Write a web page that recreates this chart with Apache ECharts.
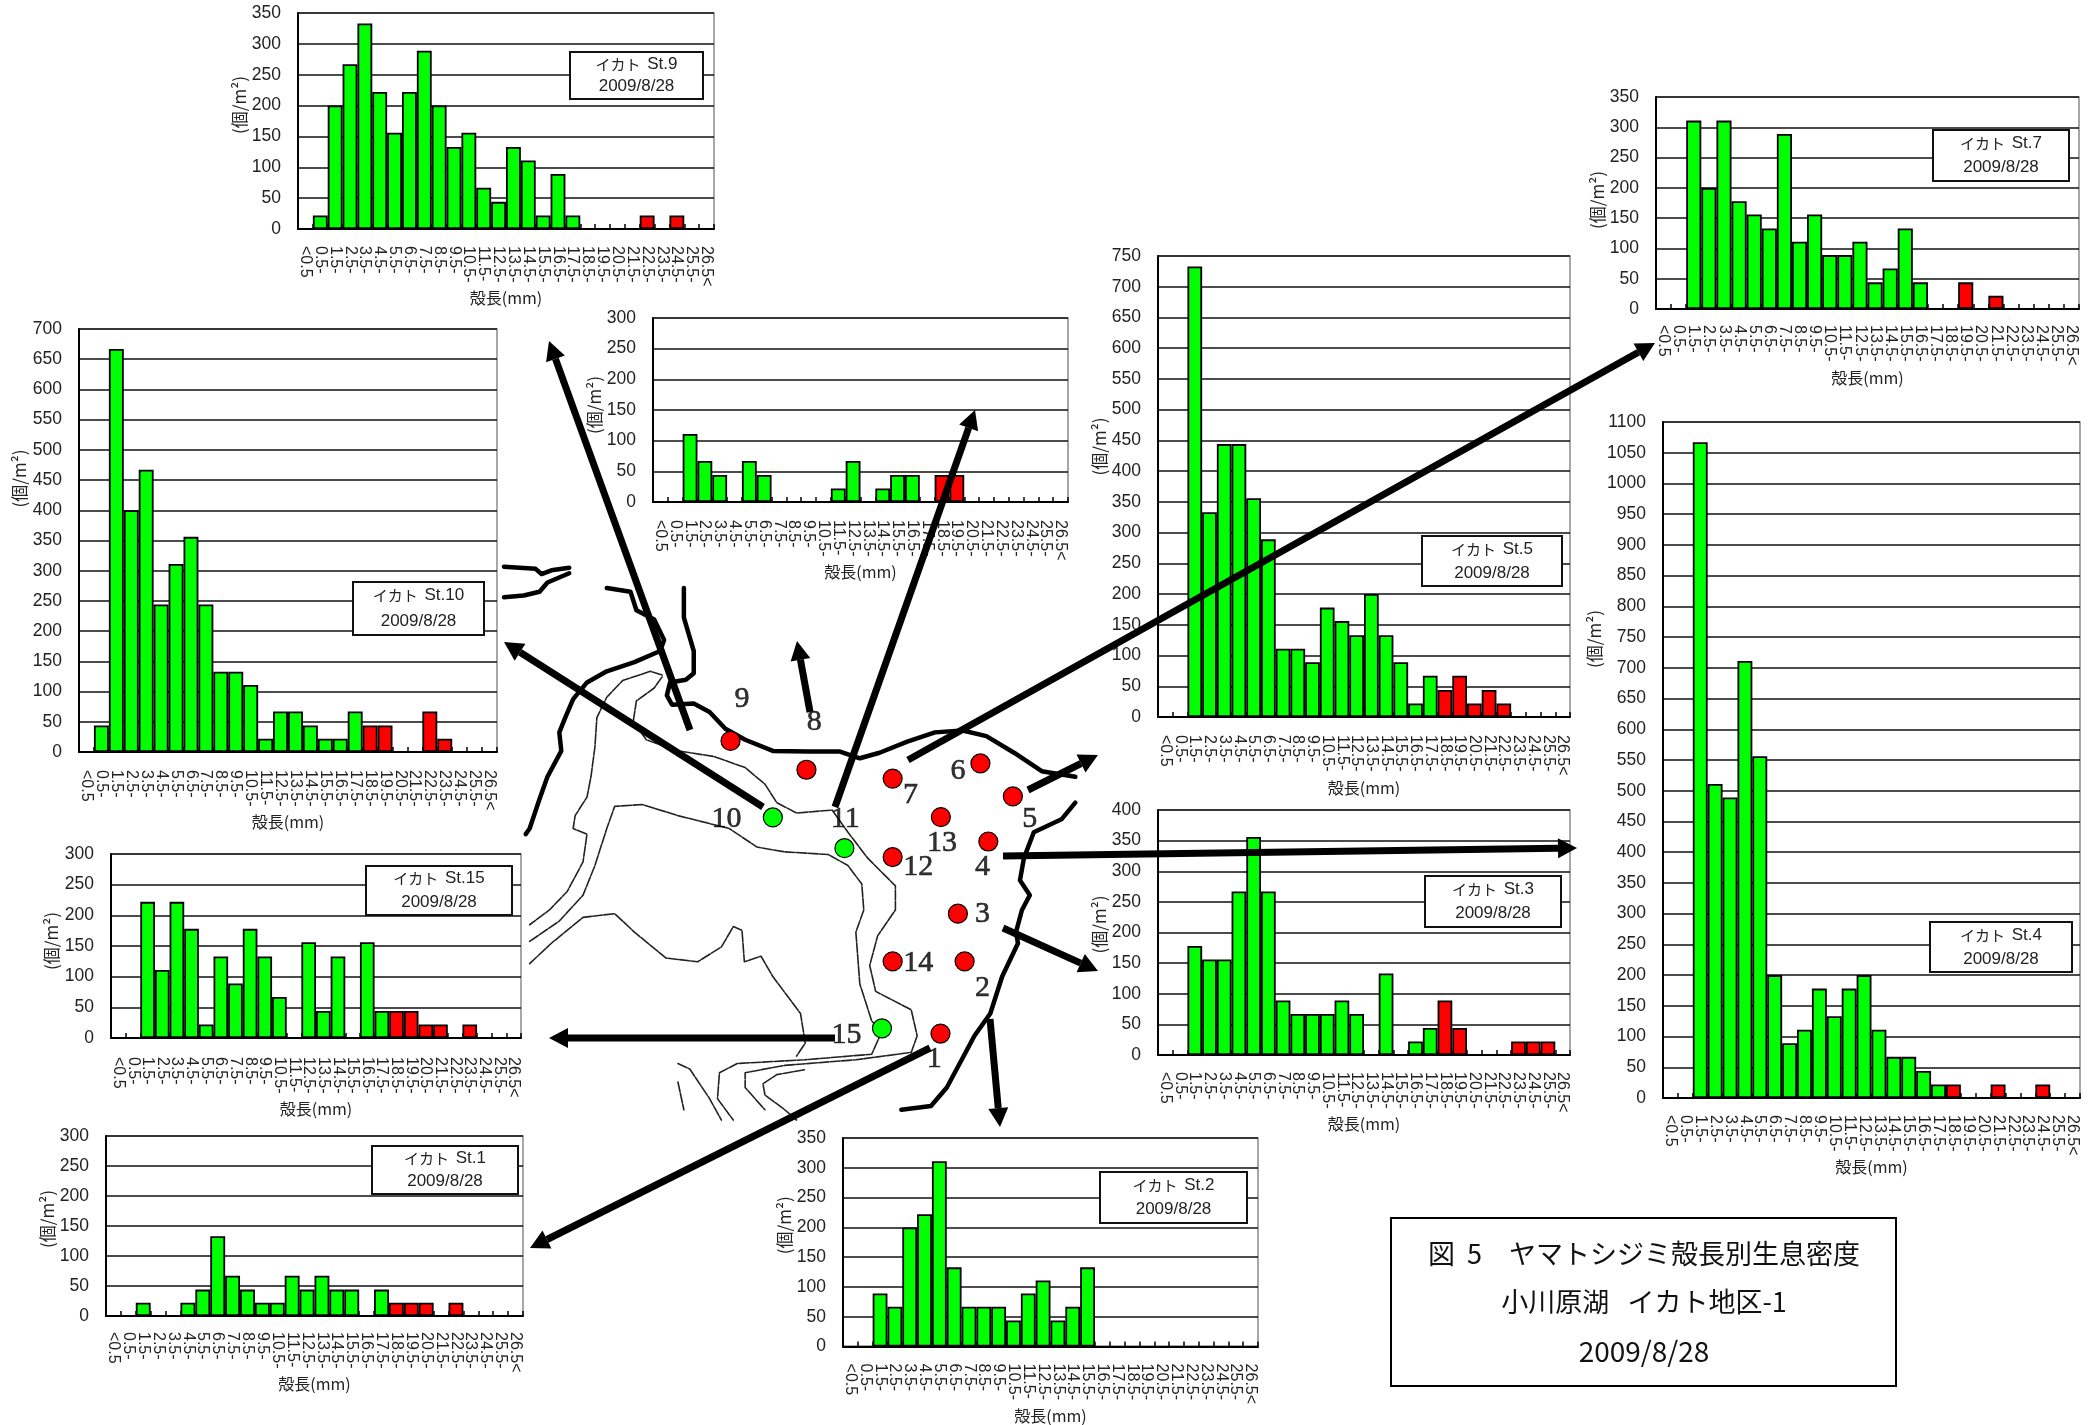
<!DOCTYPE html>
<html><head><meta charset="utf-8">
<style>html,body{margin:0;padding:0;background:#fff}#c{width:2100px;height:1425px}</style>
<script src="https://cdn.jsdelivr.net/npm/echarts@6/dist/echarts.min.js"></script>
</head><body><div id="c"></div>
<script>
// ---------- data ----------
const sizeClasses = ['<0.5','0.5-','1.5-','2.5-','3.5-','4.5-','5.5-','6.5-','7.5-','8.5-','9.5-','10.5-','11.5-','12.5-','13.5-','14.5-','15.5-','16.5-','17.5-','18.5-','19.5-','20.5-','21.5-','22.5-','23.5-','24.5-','25.5-','26.5<'];
const redFromIndex = 19; // 18.5 mm and larger
const st1  = [0,0,22,0,0,22,44,133,67,44,22,22,67,44,67,44,44,0,44,22,22,22,0,22,0,0,0,0];
const st2  = [0,0,89,67,200,222,311,133,67,67,67,44,89,111,44,67,133,0,0,0,0,0,0,0,0,0,0,0];
const st3  = [0,0,178,156,156,267,356,267,89,67,67,67,89,67,0,133,0,22,44,89,44,0,0,0,22,22,22,0];
const st4  = [0,0,1067,511,489,711,556,200,89,111,178,133,178,200,111,67,67,44,22,22,0,0,22,0,0,22,0,0];
const st5  = [0,0,733,333,444,444,356,289,111,111,89,178,156,133,200,133,89,22,67,44,67,22,44,22,0,0,0,0];
const st7  = [0,0,311,200,311,178,156,133,289,111,156,89,89,111,44,67,133,44,0,0,44,0,22,0,0,0,0,0];
const st8  = [0,0,111,67,44,0,67,44,0,0,0,0,22,67,0,22,44,44,0,44,44,0,0,0,0,0,0,0];
const st9  = [0,22,200,267,333,222,156,222,289,200,133,156,67,44,133,111,22,89,22,0,0,0,0,22,0,22,0,0];
const st10 = [0,44,667,400,467,244,311,356,244,133,133,111,22,67,67,44,22,22,67,44,44,0,0,67,22,0,0,0];
const st15 = [0,0,222,111,222,178,22,133,89,178,133,67,0,156,44,133,0,156,44,44,44,22,22,0,22,0,0,0];
const yMaxes = {st1:300,st2:350,st3:400,st4:1100,st5:750,st7:350,st8:300,st9:350,st10:700,st15:300};
const unitName = '(個/m²)';
const xName = '殻長(mm)';
const dateText = '2009/8/28';
const titleLines = ['図  5　ヤマトシジミ殻長別生息密度','小川原湖   イカト地区-1','2009/8/28'];

// map features, in map units (see toPage)
const redStations = [[583,543],[775,621],[993,645],[1215,604],[1297,693],[1115,749],[1235,815],[993,857],[1158,1010],[993,1139],[1175,1139],[1114,1334]];
const greenStations = [[690,750],[871,833],[966,1320]];
const stationLabels = [['9',612,430],['8',795,493],['7',1038,690],['6',1158,625],['5',1340,755],['13',1118,820],['4',1220,885],['12',1058,885],['3',1220,1012],['14',1058,1145],['2',1220,1210],['1',1098,1403],['10',573,755],['11',873,755],['15',876,1338]];
const shoreFragA = [[10,72],[90,78],[105,92],[130,82],[175,75]];
const shoreFragB = [[10,155],[60,150],[100,140],[120,115],[175,90]];
const shoreNorthWest = [[270,130],[330,140],[345,190],[390,215],[415,270],[405,300],[340,330],[270,355],[220,385],[185,430],[165,480],[150,520],[155,570],[120,640],[100,700],[75,780],[65,795]];
const shoreNorth = [[465,130],[465,210],[490,300],[490,360],[470,378],[430,385],[422,420],[435,445],[490,442],[530,465],[570,510],[620,540],[690,570],[780,572],[860,572],[910,590],[960,575],[1030,545],[1100,520],[1170,515],[1230,530],[1300,575],[1370,625],[1455,640]];
const shoreEast = [[1455,710],[1420,755],[1350,790],[1325,860],[1315,920],[1340,960],[1320,1000],[1305,1060],[1310,1090],[1270,1180],[1240,1280],[1200,1340],[1170,1400],[1130,1480],[1090,1530],[1015,1540]];
const contourA = [[410,365],[380,355],[310,380],[270,425],[245,480],[240,560],[230,640],[220,695],[190,745],[185,780],[220,795],[210,870],[170,950],[125,1000],[75,1040]];
const contourB = [[410,370],[390,400],[345,435],[337,490],[370,540],[450,570],[540,585],[620,615],[670,660],[700,710],[750,738],[840,730],[880,790],[930,860],[1000,935],[1000,1000],[955,1070],[935,1150],[950,1220],[1040,1270],[1055,1340],[1040,1385],[900,1405],[720,1420],[620,1440],[620,1480],[670,1540]];
const contourC = [[75,1085],[150,1030],[210,960],[240,880],[270,780],[290,720],[360,715],[450,745],[580,780],[650,830],[720,843],[830,850],[880,880],[915,930],[920,1000],[900,1060],[910,1200],[940,1300],[965,1330],[940,1390],[770,1405],[600,1415],[555,1440],[550,1510],[590,1568]];
const contourD = [[75,1145],[130,1090],[210,1020],[290,1010],[340,1060],[420,1130],[500,1140],[560,1100],[590,1045],[612,1055],[618,1140],[660,1125],[690,1180],[760,1280],[772,1360],[750,1395]];
const contourE = [[450,1415],[480,1430],[530,1510],[560,1568]];
const contourF = [[450,1465],[465,1540]];
const contourG = [[770,1432],[700,1445],[665,1470],[670,1500],[720,1540],[750,1568]];
// arrows [fromX, fromY, tipX, tipY] in page units
const arrows = [[690,730,549,341],[763,807,504,642],[810,712,797,641],[835,807,975,410],[908,760,1655,343],[1028,790,1098,755],[1003,856,1577,848],[1003,928,1098,971],[990,1019,1000,1127],[835,1038,549,1038],[930,1048,530,1248]];

// ---------- layout ----------
const charts = [
 {label:'St.9', data:st9, max:yMaxes.st9, l:298,r:714,t:13,b:229, m:17,nx:71,ny:60,shift:16, box:[570,52,703,99]},
 {label:'St.10',data:st10,max:yMaxes.st10,l:79,r:497,t:329,b:752, m:18,nx:66,ny:61,shift:62, box:[353,582,484,635]},
 {label:'St.8', data:st8, max:yMaxes.st8, l:653,r:1068,t:318,b:502,m:18,nx:65,ny:60,shift:5},
 {label:'St.5', data:st5, max:yMaxes.st5, l:1158,r:1570,t:256,b:717,m:18,nx:73,ny:60,shift:40, box:[1422,536,1562,586]},
 {label:'St.7', data:st7, max:yMaxes.st7, l:1656,r:2079,t:97,b:309, m:16,nx:71,ny:53,shift:3, box:[1933,130,2069,181]},
 {label:'St.4', data:st4, max:yMaxes.st4, l:1663,r:2080,t:422,b:1098,m:17,nx:69,ny:58,shift:121, box:[1930,922,2072,972]},
 {label:'St.3', data:st3, max:yMaxes.st3, l:1158,r:1570,t:810,b:1055,m:17,nx:70,ny:56,shift:8, box:[1425,876,1561,927]},
 {label:'St.15',data:st15,max:yMaxes.st15,l:111,r:521,t:854,b:1038,m:19,nx:66,ny:61,shift:5, box:[366,866,512,915]},
 {label:'St.1', data:st1, max:yMaxes.st1, l:106,r:523,t:1136,b:1316,m:16,nx:66,ny:56,shift:7, box:[372,1146,518,1194]},
 {label:'St.2', data:st2, max:yMaxes.st2, l:843,r:1258,t:1138,b:1350,m:17,nx:65,ny:56,shift:17, box:[1100,1172,1247,1223]}
];
const latin = '"Liberation Sans","Noto Sans CJK JP",sans-serif';
const cjk = '"Noto Sans CJK JP",sans-serif';
const toPage = ([x,y]) => [500 + x/2.529, 540 + y/2.703];

const grid = [], xAxis = [], yAxis = [], series = [], graphic = [];
charts.forEach((c,i) => {
  grid.push({left:c.l, top:c.t, width:c.r-c.l, height:c.b-c.t, show:true, backgroundColor:'#fff', borderColor:'#8a8a8a', borderWidth:1.5, containLabel:false});
  xAxis.push({type:'category', gridIndex:i, data:sizeClasses, boundaryGap:true,
    name:xName, nameLocation:'middle', nameGap:c.nx-10,
    nameTextStyle:{fontFamily:cjk, fontSize:16, color:'#222'},
    axisLine:{show:true, onZero:false, lineStyle:{color:'#000',width:2}},
    axisTick:{show:true, inside:true, length:5, alignWithLabel:false, lineStyle:{color:'#000',width:1.5}},
    axisLabel:{interval:0, rotate:-90, margin:c.m, fontFamily:latin, fontSize:16, color:'#222'},
    splitLine:{show:false}});
  yAxis.push({type:'value', gridIndex:i, min:0, max:c.max, interval:50,
    name:unitName, nameLocation:'middle', nameGap:c.ny-10,
    nameTextStyle:{fontFamily:cjk, fontSize:17, color:'#222', padding:[0,0,0,c.shift*2]},
    axisLine:{show:true, lineStyle:{color:'#000',width:2}},
    axisTick:{show:false},
    axisLabel:{margin:17, fontFamily:latin, fontSize:17.5, color:'#222', padding:[4,0,0,0], formatter:v => String(v)},
    splitLine:{show:true, lineStyle:{color:'#111',width:1.5}}});
  series.push({type:'bar', name:c.label, xAxisIndex:i, yAxisIndex:i, data:c.data, barWidth:'100%', barGap:0, z:2,
    itemStyle:{borderColor:'#000', borderWidth:1.8,
      color:p => p.dataIndex >= redFromIndex ? '#ff0000' : '#00ff00'}});
  if (c.box) {
    const [x0,y0,x1,y1] = c.box;
    graphic.push({type:'rect', z:20, shape:{x:x0,y:y0,width:x1-x0,height:y1-y0}, style:{fill:'#fff',stroke:'#111',lineWidth:2}});
    graphic.push({type:'text', z:21, x:(x0+x1)/2, y:(y0+y1)/2, style:{
      text:'{k|イカト}  {a|'+c.label+'}\n{a|'+dateText+'}', align:'center', verticalAlign:'middle',
      rich:{k:{fontFamily:cjk,fontSize:15,fill:'#222',lineHeight:(y1-y0)/2-1},a:{fontFamily:latin,fontSize:17,fill:'#222',lineHeight:(y1-y0)/2-1}}}});
  }
});

// overlay grid in page coordinates
const ov = charts.length;
grid.push({left:0, top:0, width:2100, height:1425, show:false});
xAxis.push({type:'value', gridIndex:ov, min:0, max:2100, show:false});
yAxis.push({type:'value', gridIndex:ov, min:0, max:1425, inverse:true, show:false});
const addLine = (pts, width, dash) => series.push({type:'line', xAxisIndex:ov, yAxisIndex:ov, z:10, symbol:'none', silent:true, clip:false,
  data:pts.map(toPage), lineStyle:{color: dash ? '#222' : '#000', width, type: dash ? [10,1.5] : 'solid', cap:'round', join:'round'}});
[shoreFragA,shoreFragB,shoreNorthWest,shoreNorth,shoreEast].forEach(p => addLine(p,4.5,false));
[contourA,contourB,contourC,contourD,contourE,contourF,contourG].forEach(p => addLine(p,1.6,true));
series.push({type:'custom', xAxisIndex:ov, yAxisIndex:ov, z:30, silent:true, clip:false, data:arrows,
  encode:{x:[0,2], y:[1,3]},
  renderItem:(p,api) => {
    const a = api.coord([api.value(0),api.value(1)]), b = api.coord([api.value(2),api.value(3)]);
    const d = Math.hypot(b[0]-a[0],b[1]-a[1]), ux=(b[0]-a[0])/d, uy=(b[1]-a[1])/d, L=19, W=10;
    const bx=b[0]-ux*L, by=b[1]-uy*L;
    return {type:'group', children:[
      {type:'line', shape:{x1:a[0],y1:a[1],x2:bx,y2:by}, style:{stroke:'#000',lineWidth:7}},
      {type:'polygon', shape:{points:[b,[bx-uy*W,by+ux*W],[bx+uy*W,by-ux*W]]}, style:{fill:'#000'}}
    ]};
  }});
const dots = (pts,color) => series.push({type:'scatter', xAxisIndex:ov, yAxisIndex:ov, z:35, silent:true, clip:false,
  data:pts.map(toPage), symbol:'circle', symbolSize:19, itemStyle:{color, borderColor:'#000', borderWidth:1.2, opacity:1}});
dots(redStations,'#ff0000'); dots(greenStations,'#00ff00');
series.push({type:'scatter', xAxisIndex:ov, yAxisIndex:ov, z:36, silent:true, clip:false,
  data:stationLabels.map(s => ({value:toPage([s[1],s[2]]), name:s[0]})), symbolSize:1, itemStyle:{color:'transparent'},
  label:{show:true, position:'inside', formatter:'{b}', fontFamily:'"Liberation Serif",serif', fontSize:30, color:'#000', fontWeight:'normal', textBorderColor:'#000', textBorderWidth:0.6}});

// title box
graphic.push({type:'rect', z:20, shape:{x:1391,y:1218,width:505,height:168}, style:{fill:'#fff',stroke:'#000',lineWidth:2}});
[[titleLines[0],1254,27],[titleLines[1],1302,27],[titleLines[2],1351,28]].forEach(([t,y,fs]) =>
  graphic.push({type:'text', z:21, x:1644, y, style:{text:t, align:'center', verticalAlign:'middle', fontFamily:cjk, fontSize:fs, fill:'#111'}}));

const chart = echarts.init(document.getElementById('c'), null, {renderer:'canvas', width:2100, height:1425});
chart.setOption({animation:false, backgroundColor:'#fff', tooltip:{show:false}, grid, xAxis, yAxis, series, graphic});
</script></body></html>
